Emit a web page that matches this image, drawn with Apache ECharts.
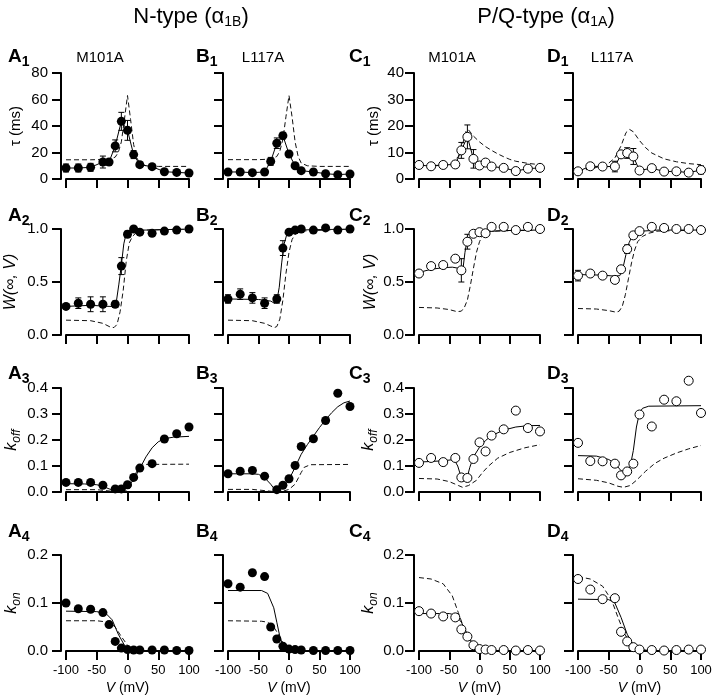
<!DOCTYPE html>
<html>
<head>
<meta charset="utf-8">
<script src="https://cdn.jsdelivr.net/npm/echarts@6/dist/echarts.min.js"></script>
<style>
  html, body { margin: 0; padding: 0; background: #fff; }
  #chart { width: 720px; height: 699px; }
</style>
</head>
<body>
<div id="chart"></div>
<script>
// ---- data: [V (mV), value, sem] for points, [V, value] for curves ----
// row 1: tau (ms)
const a1Pts = [[-100,8.3,3],[-80,8.3,3],[-60,8.8,3],[-40,12.8,4.5],[-30,12.8,2],[-20,25,4.5],[-10,43.5,6.8],[0,36.7,7.5],[10,18.4,3],[20,10.8,2],[40,9.3,1],[60,5.5,0.6],[80,5,0.6],[100,4.5,0.6]]
const a1Dash = [[-100,14.5],[-60,14.5],[-30,14.8],[-20,16.5],[-15,20],[-10,28],[-5,45],[0,63],[5,45],[10,26],[15,16],[20,12],[30,10],[50,9.5],[100,9.5]]
const b1Pts = [[-100,5.3,1],[-80,5.3,0.8],[-60,4.8,0.8],[-40,5.3,1],[-30,13.3,3],[-20,27,4],[-10,32.7,2.5],[0,18.9,2],[10,10,1],[20,6.3,0.8],[40,5.3,0.8],[60,4,0.6],[80,3.3,0.6],[100,3.8,0.6]]
const b1Dash = [[-100,14.6],[-50,14.6],[-30,15],[-20,17],[-15,21],[-10,30],[-5,47],[0,63],[5,47],[10,28],[15,17],[20,12],[30,10],[50,9.5],[100,9.5]]
const c1Pts = [[-100,5.3,1.2],[-80,4.8,0.6],[-60,5.3,1.2],[-40,5.5,1.2],[-30,10.8,3],[-20,15.9,4.5],[-10,7.6,3.5],[0,5.1,1],[10,6.2,0.8],[20,4.7,0.8],[40,4.2,0.6],[60,3,0.8],[80,3.9,1],[100,4.2,1]]
const c1Dash = [[-100,5],[-60,5.2],[-45,6],[-35,8.5],[-28,13],[-22,18.3],[-18,18.5],[-10,16.2],[0,14],[10,12.2],[20,10.8],[30,9.5],[40,8.4],[50,7.4],[60,6.7],[80,5.9],[100,5.4]]
const d1Pts = [[-100,2.9,1],[-80,4.8,0.8],[-60,4.7,0.6],[-40,4.7,2],[-30,9.3,1.2],[-20,9.8,2],[-10,8.5,3],[0,3.2,0.6],[20,4.1,0.6],[40,2.8,0.6],[60,2.9,0.6],[80,2.4,0.8],[100,3.4,1.5]]
const d1Dash = [[-100,3],[-75,4],[-50,6],[-40,8],[-30,12.5],[-22,17.5],[-16,18.7],[-10,17.8],[0,14.5],[10,11.8],[20,9.8],[40,7.6],[60,6.5],[80,5.8],[100,5.4]]

// row 2: W(inf, V)
const a2Pts = [[-100,0.27,0.02],[-80,0.30,0.05],[-60,0.29,0.07],[-40,0.29,0.07],[-20,0.29,0.03],[-10,0.65,0.08],[0,0.95,0.03],[10,1.0,0.01],[20,0.97,0.02],[40,0.96,0.02],[60,0.98,0.01],[80,0.99,0.01],[100,1.0,0.01]]
const a2Fit = [[-100,0.27],[-60,0.28],[-30,0.27],[-22,0.27],[-18,0.32],[-14,0.48],[-10,0.66],[-6,0.86],[-2,0.96],[5,0.99],[30,0.99],[100,1.0]]
const a2Dash = [[-100,0.14],[-60,0.135],[-40,0.11],[-28,0.075],[-22,0.07],[-17,0.1],[-12,0.22],[-7,0.42],[-2,0.7],[3,0.87],[8,0.93],[15,0.97],[30,0.99],[100,1.0]]
const b2Pts = [[-100,0.34,0.04],[-80,0.385,0.05],[-60,0.35,0.05],[-40,0.30,0.05],[-20,0.34,0.04],[-10,0.82,0.07],[0,0.97,0.02],[10,0.99,0.01],[20,1.0,0.01],[40,0.99,0.01],[60,1.01,0.01],[80,0.99,0.01],[100,1.0,0.01]]
const b2Fit = [[-100,0.34],[-50,0.335],[-30,0.32],[-24,0.3],[-20,0.32],[-16,0.45],[-12,0.68],[-8,0.86],[-4,0.94],[0,0.97],[10,0.99],[100,1.0]]
const b2Dash = [[-100,0.14],[-60,0.135],[-40,0.11],[-30,0.085],[-24,0.07],[-20,0.08],[-15,0.15],[-10,0.33],[-5,0.58],[0,0.78],[5,0.9],[10,0.95],[20,0.98],[100,1.0]]
const c2Pts = [[-100,0.58,0.03],[-80,0.65,0.02],[-60,0.66,0.015],[-40,0.72,0.03],[-30,0.61,0.11],[-20,0.88,0.07],[-10,0.955,0.015],[0,0.97,0.01],[10,0.96,0.01],[20,1.02,0.02],[40,1.02,0.015],[60,0.99,0.01],[80,1.02,0.015],[100,1.0,0.01]]
const c2Fit = [[-100,0.59],[-80,0.62],[-60,0.635],[-45,0.64],[-35,0.63],[-30,0.61],[-27,0.64],[-24,0.78],[-21,0.88],[-15,0.93],[-5,0.96],[10,0.975],[40,0.985],[100,0.99]]
const c2Dash = [[-100,0.26],[-70,0.255],[-50,0.24],[-37,0.22],[-30,0.225],[-25,0.26],[-20,0.33],[-15,0.47],[-10,0.63],[-5,0.78],[0,0.88],[5,0.94],[10,0.96],[20,0.98],[100,0.99]]
const d2Pts = [[-100,0.56,0.05],[-80,0.58,0.02],[-60,0.56,0.02],[-40,0.52,0.03],[-30,0.62,0.03],[-20,0.81,0.04],[-10,0.94,0.03],[0,0.98,0.01],[20,1.02,0.01],[40,1.01,0.01],[60,1.0,0.01],[80,1.0,0.01],[100,0.99,0.01]]
const d2Fit = [[-100,0.57],[-60,0.565],[-40,0.555],[-32,0.56],[-27,0.63],[-22,0.76],[-17,0.87],[-12,0.93],[-5,0.965],[5,0.98],[30,0.99],[100,0.99]]
const d2Dash = [[-100,0.25],[-70,0.245],[-50,0.23],[-38,0.215],[-33,0.225],[-28,0.27],[-23,0.38],[-18,0.53],[-13,0.68],[-8,0.8],[-3,0.88],[5,0.93],[15,0.96],[30,0.98],[100,0.99]]

// row 3: k_off
const a3Pts = [[-100,0.037],[-80,0.037],[-60,0.037],[-40,0.026],[-20,0.012],[-10,0.012],[0,0.028],[10,0.056],[20,0.092],[40,0.109],[60,0.204],[80,0.224],[100,0.25]]
const a3Fit = [[-100,0.032],[-70,0.031],[-50,0.028],[-40,0.022],[-30,0.012],[-20,0.005],[-10,0.006],[0,0.018],[10,0.048],[20,0.09],[30,0.135],[40,0.17],[50,0.193],[60,0.205],[75,0.211],[100,0.214]]
const a3Dash = [[-100,0.009],[-50,0.009],[-30,0.004],[-15,0.001],[0,0.004],[5,0.02],[10,0.05],[15,0.08],[20,0.098],[28,0.106],[100,0.107]]
const b3Pts = [[-100,0.070],[-80,0.080],[-60,0.083],[-40,0.061],[-20,0.009],[-10,0.026],[0,0.051],[10,0.102],[20,0.175],[40,0.205],[60,0.275],[80,0.38],[100,0.329]]
const b3Fit = [[-100,0.07],[-60,0.07],[-50,0.068],[-40,0.055],[-30,0.03],[-22,0.005],[-15,0.008],[-5,0.03],[0,0.048],[10,0.095],[20,0.145],[30,0.182],[40,0.215],[50,0.248],[60,0.278],[70,0.305],[80,0.328],[90,0.343],[100,0.35]]
const b3Dash = [[-100,0.01],[-60,0.01],[-30,0.003],[-20,0.0],[-10,0.003],[0,0.01],[10,0.03],[20,0.075],[25,0.095],[35,0.105],[100,0.106]]
const c3Pts = [[-100,0.112],[-80,0.131],[-60,0.115],[-40,0.131],[-30,0.056],[-20,0.054],[-10,0.127],[0,0.191],[10,0.156],[20,0.217],[40,0.241],[60,0.313],[80,0.246],[100,0.233]]
const c3Fit = [[-100,0.115],[-60,0.12],[-42,0.125],[-36,0.1],[-31,0.062],[-26,0.046],[-21,0.05],[-16,0.095],[-10,0.135],[0,0.172],[10,0.198],[20,0.217],[40,0.238],[60,0.25],[80,0.255],[100,0.256]]
const c3Dash = [[-100,0.052],[-70,0.05],[-50,0.04],[-35,0.025],[-28,0.018],[-18,0.025],[-5,0.045],[5,0.075],[15,0.1],[30,0.13],[50,0.152],[75,0.17],[100,0.182]]
const d3Pts = [[-100,0.189],[-80,0.119],[-60,0.118],[-40,0.109],[-30,0.064],[-20,0.079],[-10,0.109],[0,0.298],[20,0.252],[40,0.355],[60,0.349],[80,0.428],[100,0.304]]
const d3Fit = [[-100,0.14],[-70,0.138],[-50,0.125],[-40,0.11],[-30,0.082],[-25,0.076],[-20,0.08],[-15,0.1],[-10,0.16],[-5,0.25],[0,0.305],[5,0.322],[15,0.33],[100,0.332]]
const d3Dash = [[-100,0.051],[-70,0.045],[-50,0.035],[-35,0.022],[-26,0.018],[-15,0.025],[-5,0.045],[10,0.08],[25,0.11],[40,0.13],[60,0.15],[80,0.166],[100,0.179]]

// row 4: k_on
const a4Pts = [[-100,0.100],[-80,0.088],[-60,0.087],[-40,0.08],[-30,0.055],[-20,0.02],[-10,0.006],[0,0.003],[10,0.002],[20,0.002],[40,0.002],[60,0.002],[80,0.001],[100,0.001]]
const a4Fit = [[-100,0.083],[-50,0.082],[-35,0.078],[-25,0.065],[-15,0.035],[-5,0.012],[5,0.003],[20,0.0],[100,0.0]]
const a4Dash = [[-100,0.063],[-50,0.063],[-30,0.06],[-20,0.05],[-10,0.03],[0,0.012],[10,0.003],[20,0.0],[100,0.0]]
const b4Pts = [[-100,0.14],[-80,0.133],[-60,0.163],[-40,0.155],[-30,0.05],[-20,0.025],[-10,0.01],[0,0.004],[10,0.003],[20,0.002],[40,0.001],[60,0.001],[80,0.001],[100,0.001]]
const b4Fit = [[-100,0.126],[-45,0.126],[-35,0.12],[-25,0.09],[-20,0.06],[-15,0.03],[-10,0.012],[0,0.003],[10,0.0],[100,0.0]]
const b4Dash = [[-100,0.063],[-45,0.062],[-35,0.06],[-25,0.05],[-20,0.04],[-10,0.018],[0,0.005],[10,0.001],[100,0.0]]
const c4Pts = [[-100,0.083],[-80,0.078],[-60,0.072],[-40,0.07],[-30,0.045],[-20,0.03],[-10,0.012],[0,0.004],[10,0.003],[20,0.002],[40,0.002],[60,0.001],[80,0.002],[100,0.001]]
const c4Fit = [[-100,0.078],[-50,0.078],[-40,0.075],[-30,0.06],[-20,0.035],[-10,0.012],[0,0.004],[15,0.0],[100,0.0]]
const c4Dash = [[-100,0.153],[-80,0.15],[-60,0.14],[-45,0.115],[-35,0.08],[-25,0.045],[-15,0.02],[0,0.005],[20,0.0],[100,0.0]]
const d4Pts = [[-100,0.15],[-80,0.128],[-60,0.108],[-40,0.11],[-30,0.04],[-20,0.02],[-10,0.008],[0,0.003],[20,0.002],[40,0.001],[60,0.002],[80,0.003],[100,0.003]]
const d4Fit = [[-100,0.108],[-50,0.107],[-40,0.1],[-30,0.07],[-20,0.035],[-10,0.012],[0,0.003],[10,0.0],[100,0.0]]
const d4Dash = [[-100,0.155],[-80,0.15],[-60,0.135],[-45,0.105],[-35,0.07],[-25,0.038],[-15,0.015],[0,0.004],[20,0.0],[100,0.0]]

const yMaxRow = [[80, 80, 40, 40], [1, 1, 1, 1], [0.4, 0.4, 0.4, 0.4], [0.2, 0.2, 0.2, 0.2]]
const yStepRow = [[20, 20, 10, 10], [0.5, 0.5, 0.5, 0.5], [0.1, 0.1, 0.1, 0.1], [0.1, 0.1, 0.1, 0.1]]

// panels row by row; row 1 solid line just joins the points
const panels = [
  [a1Pts, null, a1Dash, false], [b1Pts, null, b1Dash, false], [c1Pts, null, c1Dash, true], [d1Pts, null, d1Dash, true],
  [a2Pts, a2Fit, a2Dash, false], [b2Pts, b2Fit, b2Dash, false], [c2Pts, c2Fit, c2Dash, true], [d2Pts, d2Fit, d2Dash, true],
  [a3Pts, a3Fit, a3Dash, false], [b3Pts, b3Fit, b3Dash, false], [c3Pts, c3Fit, c3Dash, true], [d3Pts, d3Fit, d3Dash, true],
  [a4Pts, a4Fit, a4Dash, false], [b4Pts, b4Fit, b4Dash, false], [c4Pts, c4Fit, c4Dash, true], [d4Pts, d4Fit, d4Dash, true]
]

// ---- layout ----
const FONT = 'Liberation Sans, Arial, sans-serif'
const colLeft = [66, 228, 419, 578]
const colWidth = [123, 122, 121, 123]
const rowTop = [73, 229, 388, 555]
const rowHeight = [106, 106, 104, 96]
const yNames = ['τ (ms)', '{i|W(∞, V)}', '{i|k}{s|off}', '{i|k}{s|on}']
const nameGapA = [38, 42, 38, 38]
const nameGapC = [33, 35, 34, 34]

const chart = echarts.init(document.getElementById('chart'))

function errorBar(params, api) {
  const x = api.value(0)
  const y = api.value(1)
  const e = api.value(2)
  const hi = api.coord([x, y + e])
  const lo = api.coord([x, y - e])
  const cap = 3
  const style = { stroke: '#000', lineWidth: 1 }
  return {
    type: 'group',
    children: [
      { type: 'line', shape: { x1: hi[0], y1: hi[1], x2: lo[0], y2: lo[1] }, style },
      { type: 'line', shape: { x1: hi[0] - cap, y1: hi[1], x2: hi[0] + cap, y2: hi[1] }, style },
      { type: 'line', shape: { x1: lo[0] - cap, y1: lo[1], x2: lo[0] + cap, y2: lo[1] }, style }
    ]
  }
}

const grid = [], xAxis = [], yAxis = [], series = []

panels.forEach(([pts, fit, dash, open], i) => {
  const r = Math.floor(i / 4)
  const c = i % 4
  const showY = c === 0 || c === 2
  grid.push({ left: colLeft[c], top: rowTop[r], width: colWidth[c], height: rowHeight[r] })
  xAxis.push({
    type: 'value', gridIndex: i, min: -100, max: 100, interval: 50,
    axisLine: { show: true, onZero: false, lineStyle: { color: '#000', width: 2 } },
    axisTick: { show: true, length: 9, lineStyle: { color: '#000', width: 2 } },
    splitLine: { show: false },
    axisLabel: { show: r === 3, color: '#000', fontSize: 13, fontFamily: FONT, margin: 13 },
    name: r === 3 ? '{i|V} (mV)' : '',
    nameLocation: 'middle', nameGap: 30,
    nameTextStyle: { color: '#000', fontSize: 14, fontFamily: FONT, rich: { i: { fontStyle: 'italic', fontSize: 14, fontFamily: FONT } } }
  })
  yAxis.push({
    type: 'value', gridIndex: i, min: 0, max: yMaxRow[r][c], interval: yStepRow[r][c], offset: 5,
    axisLine: { show: true, onZero: false, lineStyle: { color: '#000', width: 2 } },
    axisTick: { show: true, length: 9, lineStyle: { color: '#000', width: 2 } },
    splitLine: { show: false },
    axisLabel: {
      show: showY, color: '#000', fontSize: 15, fontFamily: FONT, margin: c === 0 ? 13 : 10,
      formatter: v => r === 0 ? String(v) : v.toFixed(1)
    },
    name: showY ? yNames[r] : '',
    nameLocation: 'middle', nameRotate: 90,
    nameGap: c === 0 ? nameGapA[r] : nameGapC[r],
    nameTextStyle: {
      color: '#000', fontSize: 15, fontFamily: FONT,
      rich: {
        i: { fontStyle: 'italic', fontSize: 16, fontFamily: FONT, color: '#000' },
        s: { fontStyle: 'italic', fontSize: 12, fontFamily: FONT, color: '#000', padding: [10, 0, 0, 0] }
      }
    }
  })
  series.push({
    type: 'line', xAxisIndex: i, yAxisIndex: i, data: dash, showSymbol: false, silent: true,
    lineStyle: { color: '#111', width: 1, type: [5, 3] }, z: 2
  })
  series.push({
    type: 'line', xAxisIndex: i, yAxisIndex: i,
    data: fit ? fit : pts.map(p => [p[0], p[1]]),
    showSymbol: false, silent: true, lineStyle: { color: '#000', width: 1 }, z: 3
  })
  if (r < 2) {
    series.push({
      type: 'custom', xAxisIndex: i, yAxisIndex: i, data: pts, renderItem: errorBar,
      encode: { x: 0, y: 1 }, clip: false, silent: true, z: 4
    })
  }
  series.push({
    type: 'scatter', xAxisIndex: i, yAxisIndex: i, data: pts.map(p => [p[0], p[1]]),
    symbol: 'circle', symbolSize: 9, clip: false, silent: true, z: 5,
    itemStyle: open
      ? { color: '#fff', borderColor: '#000', borderWidth: 1, opacity: 1 }
      : { color: '#000', opacity: 1 }
  })
})

// ---- texts: headers, panel letters, mutant names ----
const letters = ['A', 'B', 'C', 'D']
const letterX = [8, 196, 349, 547]
const letterY = [44, 203, 361, 519]
const graphic = []
letters.forEach((L, c) => {
  for (let r = 0; r < 4; r++) {
    graphic.push({
      type: 'text', x: letterX[c], y: letterY[r],
      style: {
        text: '{a|' + L + '}{n|' + (r + 1) + '}',
        verticalAlign: 'top',
        rich: {
          a: { fontSize: 19, fontWeight: 'bold', fontFamily: FONT, fill: '#000' },
          n: { fontSize: 14, fontWeight: 'bold', fontFamily: FONT, fill: '#000', padding: [11, 0, 0, 0] }
        }
      }
    })
  }
})
const mutNames = ['M101A', 'L117A', 'M101A', 'L117A']
const mutX = [100, 263, 452, 612]
mutNames.forEach((t, c) => {
  graphic.push({
    type: 'text', x: mutX[c], y: 50,
    style: { text: t, align: 'center', verticalAlign: 'top', fontSize: 15, fontFamily: FONT, fill: '#000' }
  })
})
const headers = [['N-type (α', '1B', ')', 191], ['P/Q-type (α', '1A', ')', 546]]
headers.forEach(([a, s, b, x]) => {
  graphic.push({
    type: 'text', x: x, y: 4,
    style: {
      text: '{t|' + a + '}{s|' + s + '}{t|' + b + '}',
      align: 'center', verticalAlign: 'top',
      rich: {
        t: { fontSize: 22, fontFamily: FONT, fill: '#000' },
        s: { fontSize: 14, fontFamily: FONT, fill: '#000', padding: [11, 0, 0, 0] }
      }
    }
  })
})

chart.setOption({
  animation: false,
  backgroundColor: '#fff',
  grid, xAxis, yAxis, series, graphic
})
</script>
</body>
</html>
